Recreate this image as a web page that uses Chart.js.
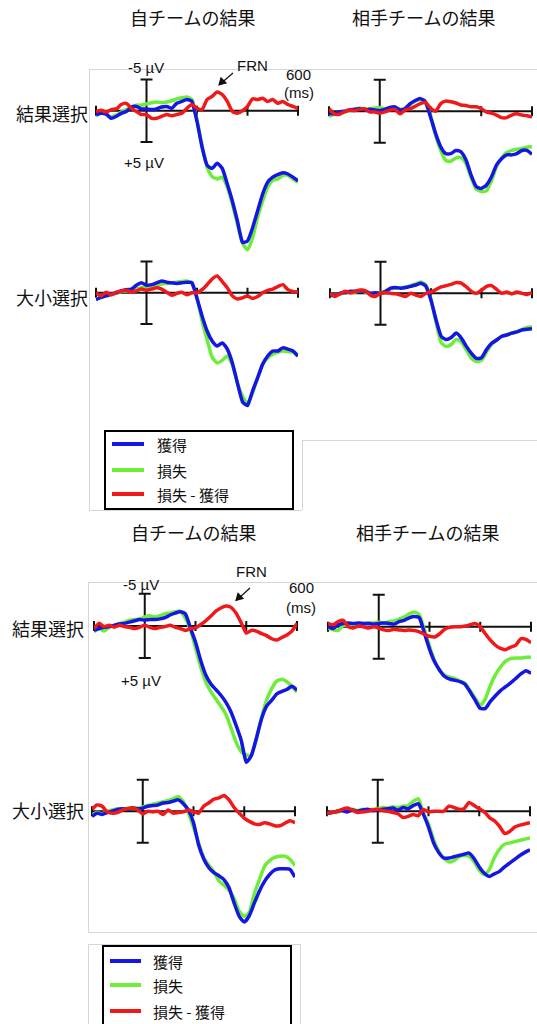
<!DOCTYPE html>
<html>
<head>
<meta charset="utf-8">
<script src="https://cdn.jsdelivr.net/npm/chart.js@4.4.1/dist/chart.umd.min.js"></script>
<style>
  html, body { margin: 0; padding: 0; background: #fff; }
  #page { position: relative; width: 537px; height: 1024px; overflow: hidden;
          font-family: "Noto Sans CJK JP", "Noto Sans", sans-serif; color: #111; }
  .t { position: absolute; white-space: nowrap; line-height: 1; transform: translateY(-50%); }
  .h { font-size: 18px; }
  .n { font-family: "Liberation Sans", Arial, sans-serif; font-size: 15px; }
  .lg { font-size: 15px; }
  canvas { position: absolute; }
  .g { position: absolute; background: #d6d6d6; }
  .legend { position: absolute; border: 2px solid #000; box-sizing: border-box; background: #fff; }
  .swatch { position: absolute; height: 4px; transform: translateY(-50%); }
  svg { position: absolute; left: 0; top: 0; pointer-events: none; }
</style>
</head>
<body>
<div id="page">
  <!-- light frame lines of the original figure -->
  <div class="g" style="left:89px;top:69px;width:448px;height:1px"></div>
  <div class="g" style="left:89px;top:69px;width:1px;height:441px"></div>
  <div class="g" style="left:89px;top:510px;width:213px;height:1px"></div>
  <div class="g" style="left:302px;top:440px;width:1px;height:70px"></div>
  <div class="g" style="left:302px;top:440px;width:235px;height:1px"></div>
  <div class="g" style="left:88px;top:582px;width:449px;height:1px"></div>
  <div class="g" style="left:88px;top:582px;width:1px;height:350px"></div>
  <div class="g" style="left:88px;top:932px;width:449px;height:1px"></div>
  <div class="g" style="left:88px;top:944px;width:212px;height:1px"></div>
  <div class="g" style="left:88px;top:944px;width:1px;height:80px"></div>
  <div class="g" style="left:300px;top:944px;width:1px;height:80px"></div>

  <!-- figure 1 -->
  <div class="t h" style="left:130px;top:17px">自チームの結果</div>
  <div class="t h" style="left:352px;top:17px">相手チームの結果</div>
  <div class="t h" style="left:16px;top:113px">結果選択</div>
  <div class="t h" style="left:16px;top:297px">大小選択</div>
  <div class="t n" style="left:128px;top:67px">-5 µV</div>
  <div class="t n" style="left:124px;top:162px">+5 µV</div>
  <div class="t n" style="left:237px;top:65px">FRN</div>
  <div class="t n" style="left:286px;top:74px">600</div>
  <div class="t n" style="left:284px;top:92px">(ms)</div>

  <!-- figure 2 -->
  <div class="t h" style="left:131px;top:532px">自チームの結果</div>
  <div class="t h" style="left:356px;top:532px">相手チームの結果</div>
  <div class="t h" style="left:12px;top:628px">結果選択</div>
  <div class="t h" style="left:12px;top:810px">大小選択</div>
  <div class="t n" style="left:123px;top:584px">-5 µV</div>
  <div class="t n" style="left:121px;top:680px">+5 µV</div>
  <div class="t n" style="left:236px;top:571px">FRN</div>
  <div class="t n" style="left:289px;top:587px">600</div>
  <div class="t n" style="left:286px;top:607px">(ms)</div>

  <svg width="537" height="1024">
    <g stroke="#111" stroke-width="1.2" fill="#111">
      <line x1="233" y1="73" x2="222" y2="82.5"/>
      <polygon points="219,85 221,78 226,83"/>
      <line x1="250" y1="588" x2="239" y2="598"/>
      <polygon points="236,600.5 238,593.5 243,598.5"/>
    </g>
  </svg>

  <div id="legend1" class="legend" style="left:104px;top:430px;width:190px;height:80px"></div>
  <div id="legend2" class="legend" style="left:102px;top:945px;width:190px;height:90px"></div>
</div>

<script>
// time points (ms) and series
const times = [-200,-180,-160,-140,-120,-100,-80,-60,-40,-20,0,20,40,60,80,100,120,140,160,180,200,
               220,240,260,280,300,320,340,360,380,400,420,440,460,480,500,520,540,560,580,600];
const timeTicks = [-200, 200, 400, 600];
const scaleBarUV = 5;
const seriesNames = ['獲得', '損失', '損失 - 獲得'];
const seriesColors = ['#1616e4', '#6cee38', '#f01818'];

// figure 1, 結果選択 / 自チーム
const fig1ResultSelfGain = [0.6,0.4,0.5,1.2,0.9,0.4,0.1,-0.6,-0.7,-0.3,-0.3,-0.2,-0.3,-0.6,-0.7,-0.4,-1.2,-1.5,-1.8,-1.5,1.7,5.8,8.7,9.2,8.4,9.2,11.7,14.4,17.6,21.0,20.8,18.7,16.0,13.3,11.4,10.6,10.2,9.9,10.1,10.6,11.2];
const fig1ResultSelfLoss = [0.8,0.3,0.6,1.0,0.7,0.2,-0.2,-0.5,-0.9,-0.9,-1.1,-1.3,-1.4,-1.3,-1.4,-1.6,-1.9,-2.1,-2.2,-1.8,1.5,5.5,9.0,10.5,10.9,10.6,12.2,14.9,18.1,21.1,22.2,20.3,17.0,14.4,12.2,11.1,10.9,10.3,10.3,10.9,11.4];
const fig1ResultSelfDiff = [0.1,-0.1,0.2,-0.2,-0.3,-1.0,-1.2,-0.4,0.1,0.6,0.6,1.2,1.2,0.9,0.6,0.8,0.6,0.4,-0.4,-1.0,-0.4,-0.2,-1.8,-2.3,-3.0,-2.6,-1.5,0.1,0.4,0.0,-0.7,-1.9,-1.8,-2.0,-1.5,-1.8,-1.2,-1.5,-1.0,-0.7,-0.4];
// figure 1, 結果選択 / 相手チーム
const fig1ResultOtherGain = [0.4,0.4,0.1,0.0,-0.2,-0.3,-0.4,-0.2,-0.3,-0.2,-0.1,-0.3,-0.6,-0.7,-0.2,-0.4,-1.2,-1.7,-2.0,-1.5,0.9,3.5,5.6,6.7,6.7,6.2,6.4,7.7,10.1,11.9,12.2,11.7,10.4,8.5,7.5,6.9,6.9,6.7,6.2,6.2,6.8];
const fig1ResultOtherLoss = [0.8,0.5,0.2,0.1,-0.1,-0.3,-0.5,-0.3,-0.4,-0.5,-0.6,-0.4,-0.5,-0.6,-0.3,-0.5,-1.1,-1.6,-1.8,-1.3,0.6,3.8,6.2,7.8,7.9,7.4,7.3,8.3,10.5,12.3,12.7,12.6,11.0,8.8,7.4,6.5,6.2,6.0,5.9,5.7,5.6];
const fig1ResultOtherDiff = [-0.4,0.4,0.5,0.1,-0.2,-0.1,-0.3,-0.4,0.1,0.1,0.3,0.1,-0.2,-0.3,0.4,-0.2,-0.4,-0.8,-1.2,-1.4,-0.5,0.0,-1.2,-1.6,-1.5,-1.3,-1.0,-0.9,-0.7,-0.7,-0.4,0.1,0.3,0.6,1.0,1.0,0.6,0.4,0.6,0.7,0.9];
// figure 1, 大小選択 / 自チーム
const fig1SizeSelfGain = [1.1,0.7,0.5,0.2,0.0,-0.3,-0.5,-0.6,-1.2,-1.6,-1.2,-1.3,-1.6,-1.9,-1.7,-1.6,-1.5,-1.6,-1.7,-1.6,0.9,3.7,6.1,7.7,8.5,8.0,9.0,11.2,14.4,17.4,18.0,15.7,13.6,11.4,10.1,9.3,9.3,8.8,9.0,9.3,10.1];
const fig1SizeSelfLoss = [1.0,0.8,0.4,0.3,0.1,-0.2,-0.3,-0.4,-0.6,-0.8,-0.9,-1.0,-1.2,-1.4,-1.5,-1.6,-1.7,-1.8,-1.9,-1.5,0.8,4.5,7.5,10.3,11.2,10.8,10.1,11.5,14.4,16.5,17.6,16.0,13.6,11.4,10.4,9.8,9.5,9.3,9.4,9.5,10.1];
const fig1SizeSelfDiff = [0.0,0.5,-0.1,0.3,-0.1,-0.3,-0.4,-0.1,-0.3,-0.6,-0.4,-0.6,-0.8,-0.6,-0.1,0.4,0.1,-0.1,0.3,0.0,0.0,-0.5,-1.3,-2.2,-2.7,-1.8,-0.8,0.5,1.0,0.8,0.5,0.9,0.6,0.0,-0.4,-0.6,-1.0,-1.3,-0.5,-0.2,-0.1];
// figure 1, 大小選択 / 相手チーム
const fig1SizeOtherGain = [0.3,0.4,0.0,-0.1,-0.3,-0.3,-0.4,-0.3,0.0,-0.1,0.0,-0.3,-0.8,-0.9,-0.8,-0.9,-1.1,-1.3,-1.6,-1.1,1.1,4.2,6.8,7.3,7.0,6.3,7.1,8.4,9.5,10.3,10.2,8.9,7.9,7.4,6.8,6.6,6.3,6.1,5.8,5.7,5.6];
const fig1SizeOtherLoss = [0.4,0.3,0.1,-0.2,-0.1,-0.2,-0.4,-0.2,0.2,0.0,-0.1,-0.3,-0.7,-0.8,-0.9,-1.0,-1.2,-1.5,-1.8,-1.3,1.0,4.6,7.8,8.4,8.1,7.3,7.7,9.0,10.3,10.8,10.6,9.3,8.1,7.4,6.8,6.5,6.3,6.1,5.7,5.4,5.3];
const fig1SizeOtherDiff = [0.0,0.5,0.1,-0.3,-0.1,-0.3,-0.5,-0.4,0.3,0.5,0.0,-0.1,0.0,0.1,0.3,0.5,0.0,0.3,0.5,0.0,-0.2,-0.6,-1.0,-1.2,-1.4,-1.7,-1.6,-1.0,-0.3,0.0,-0.5,-1.1,-1.2,-0.6,0.0,-0.2,0.1,-0.2,0.0,0.2,-0.1];

// figure 2, 結果選択 / 自チーム
const fig2ResultSelfGain = [0.7,0.4,0.2,0.1,-0.1,-0.3,-0.4,-0.6,-0.8,-1.0,-0.9,-1.0,-1.0,-1.1,-1.3,-1.7,-2.0,-2.2,-1.9,0.3,2.5,5.3,7.6,9.0,9.9,10.8,11.9,13.4,15.5,17.8,21.2,20.2,17.5,14.5,12.5,11.6,10.6,10.2,9.9,9.4,10.0];
const fig2ResultSelfLoss = [0.9,0.4,0.8,0.2,-0.1,-0.4,-0.6,-0.9,-1.0,-1.1,-1.4,-1.6,-1.4,-1.6,-1.9,-2.0,-2.2,-2.3,-1.2,0.6,3.4,6.3,8.7,10.2,11.4,12.5,13.8,15.9,18.1,19.6,20.1,20.2,17.5,14.3,11.6,9.8,8.6,8.3,8.7,9.4,10.3];
const fig2ResultSelfDiff = [0.4,-0.4,0.1,-0.1,0.2,-0.1,0.1,0.2,0.4,0.2,-0.1,0.2,0.4,0.2,0.1,-0.1,0.2,0.4,0.7,0.4,0.3,-0.2,-0.8,-1.5,-2.3,-2.8,-3.1,-2.9,-2.0,-0.5,1.1,0.7,0.8,1.2,1.5,2.0,2.2,1.8,1.4,0.8,-0.4];
// figure 2, 結果選択 / 相手チーム
const fig2ResultOtherGain = [0.0,0.3,-0.3,-0.5,-0.6,-0.5,-0.6,-0.5,-0.5,-0.4,-0.5,-0.6,-0.5,-0.4,-0.8,-1.0,-1.4,-1.6,-1.4,1.0,3.5,5.5,6.8,7.8,8.2,8.4,8.6,9.0,10.2,11.5,12.8,12.8,11.7,10.8,10.0,9.4,8.8,8.1,7.4,6.9,7.3];
const fig2ResultOtherLoss = [0.2,0.5,0.6,-0.2,-0.3,-0.4,-0.5,-0.5,-0.6,-0.6,-0.7,-0.6,-0.8,-0.9,-1.2,-1.5,-2.0,-2.3,-1.9,0.5,3.0,5.3,6.8,7.6,7.9,8.1,8.5,8.9,10.0,11.2,12.3,11.3,9.2,7.5,6.3,5.4,5.0,4.9,4.9,4.8,4.8];
const fig2ResultOtherDiff = [-0.5,-0.3,-0.8,-1.0,0.0,0.2,-0.1,0.0,0.2,0.0,0.2,0.5,0.6,0.4,0.5,0.6,0.5,0.6,0.8,1.2,1.5,1.6,1.1,0.4,0.1,0.0,0.0,-0.1,-0.3,-0.5,0.0,1.1,2.1,2.9,3.4,3.6,3.2,2.9,1.9,2.0,2.5];
// figure 2, 大小選択 / 自チーム
const fig2SizeSelfGain = [0.8,0.3,0.5,0.2,0.0,-0.3,-0.4,-0.3,-0.5,-0.4,-0.5,-0.8,-0.9,-1.0,-1.3,-1.4,-1.6,-1.8,-1.2,-0.2,1.8,5.3,7.5,8.9,9.7,10.2,10.8,12.1,14.5,16.6,17.5,16.5,14.5,12.6,11.1,10.0,9.3,9.1,9.1,9.2,10.4];
const fig2SizeSelfLoss = [0.6,0.2,0.4,0.0,-0.2,-0.4,-0.3,-0.5,-0.6,-0.5,-0.7,-0.9,-1.1,-1.3,-1.5,-1.7,-2.0,-2.3,-1.5,0.3,2.5,5.0,7.3,8.5,9.5,11.0,11.7,12.5,13.8,15.8,16.6,16.0,13.0,10.8,8.7,7.8,7.3,7.1,7.1,7.6,8.6];
const fig2SizeSelfDiff = [-0.3,-1.0,-0.8,0.1,0.3,0.2,-0.2,-0.4,-0.5,-0.2,0.4,0.0,0.1,0.0,0.5,-0.2,0.3,0.2,0.1,-0.2,0.1,0.3,-0.8,-1.3,-1.9,-2.1,-2.5,-1.8,-0.6,0.3,1.1,1.6,2.0,2.1,1.8,2.0,2.3,2.3,1.9,1.5,1.8];
// figure 2, 大小選択 / 相手チーム
const fig2SizeOtherGain = [0.3,0.2,0.0,-0.1,0.1,-0.2,0.0,-0.2,-0.3,-0.1,-0.2,-0.3,-0.4,-0.5,-0.2,-0.6,-0.4,-0.9,-1.2,0.5,2.5,5.0,6.5,7.4,7.4,7.2,7.0,6.8,6.6,7.5,8.8,9.8,10.3,9.9,9.5,8.8,8.2,7.6,7.0,6.5,6.1];
const fig2SizeOtherLoss = [0.4,0.1,0.2,-0.2,0.0,-0.3,-0.1,-0.3,-0.2,-0.3,-0.4,-0.6,-0.5,-0.7,-0.6,-0.8,-0.9,-1.6,-2.0,0.3,2.0,4.5,6.3,7.4,8.0,7.8,7.2,7.0,7.1,8.0,9.3,10.0,9.2,7.3,6.0,5.2,5.0,4.8,4.6,4.4,4.2];
const fig2SizeOtherDiff = [0.3,0.2,0.0,-0.3,-0.5,-0.2,0.2,0.1,0.0,-0.2,-0.3,-0.1,0.0,0.2,0.4,1.0,0.8,0.5,0.7,-0.3,0.1,0.0,0.0,0.0,-0.8,-0.6,-0.3,-0.4,-1.4,-0.9,-0.4,0.1,1.0,1.5,2.4,3.5,3.2,2.5,2.2,2.0,1.8];

// where each panel sits: px of -200 ms and 600 ms, px of 0 µV, px per µV
const panels = [
  { series: [fig1ResultSelfGain, fig1ResultSelfLoss, fig1ResultSelfDiff],   x0: 95.7,  x1: 297.7, y0: 111,   k: 6.25 },
  { series: [fig1ResultOtherGain, fig1ResultOtherLoss, fig1ResultOtherDiff], x0: 329.3, x1: 532,   y0: 111,   k: 6.33 },
  { series: [fig1SizeSelfGain, fig1SizeSelfLoss, fig1SizeSelfDiff],         x0: 96,    x1: 298.3, y0: 293.3, k: 6.27 },
  { series: [fig1SizeOtherGain, fig1SizeOtherLoss, fig1SizeOtherDiff],      x0: 330,   x1: 532,   y0: 293.3, k: 6.33 },
  { series: [fig2ResultSelfGain, fig2ResultSelfLoss, fig2ResultSelfDiff],   x0: 94,    x1: 297,   y0: 625.7, k: 6.43 },
  { series: [fig2ResultOtherGain, fig2ResultOtherLoss, fig2ResultOtherDiff], x0: 327.7, x1: 530.7, y0: 626.7, k: 6.4 },
  { series: [fig2SizeSelfGain, fig2SizeSelfLoss, fig2SizeSelfDiff],         x0: 92.3,  x1: 295.7, y0: 811.7, k: 6.33 },
  { series: [fig2SizeOtherGain, fig2SizeOtherLoss, fig2SizeOtherDiff],      x0: 326.7, x1: 530,   y0: 811.7, k: 6.33 }
];

const PAD = 10, UV_TOP = -7, UV_BOTTOM = 24;

// zero line with ms ticks, and the ±5 µV bar at stimulus onset
const erpAxes = {
  id: 'erpAxes',
  beforeDatasetsDraw(chart) {
    const { ctx, scales: { x, y } } = chart;
    const zy = y.getPixelForValue(0);
    ctx.save();
    ctx.strokeStyle = '#111';
    ctx.lineWidth = 2;
    ctx.beginPath();
    ctx.moveTo(x.getPixelForValue(times[0]), zy);
    ctx.lineTo(x.getPixelForValue(times[times.length - 1]), zy);
    timeTicks.forEach(t => {
      const px = x.getPixelForValue(t);
      ctx.moveTo(px, zy - 5);
      ctx.lineTo(px, zy + 5);
    });
    const bx = x.getPixelForValue(0);
    const top = y.getPixelForValue(-scaleBarUV), bot = y.getPixelForValue(scaleBarUV);
    ctx.moveTo(bx, top); ctx.lineTo(bx, bot);
    ctx.moveTo(bx - 6, top); ctx.lineTo(bx + 6, top);
    ctx.moveTo(bx - 6, bot); ctx.lineTo(bx + 6, bot);
    ctx.stroke();
    ctx.restore();
  }
};

const page = document.getElementById('page');

panels.forEach(p => {
  const c = document.createElement('canvas');
  c.width = Math.round(p.x1 - p.x0 + 2 * PAD);
  c.height = Math.round((UV_BOTTOM - UV_TOP) * p.k + 2 * PAD);
  c.style.left = Math.round(p.x0 - PAD) + 'px';
  c.style.top = Math.round(p.y0 + UV_TOP * p.k - PAD) + 'px';
  page.appendChild(c);

  // red drawn on top, green underneath
  const order = [2, 0, 1];
  new Chart(c, {
    type: 'line',
    data: {
      datasets: order.map(i => ({
        label: seriesNames[i],
        data: p.series[i].map((v, j) => ({ x: times[j], y: v })),
        borderColor: seriesColors[i],
        borderWidth: 3.5,
        pointRadius: 0,
        tension: 0.2,
        fill: false
      }))
    },
    options: {
      responsive: false,
      animation: false,
      devicePixelRatio: 1,
      layout: { padding: PAD },
      plugins: { legend: { display: false }, tooltip: { enabled: false } },
      scales: {
        x: { type: 'linear', min: times[0], max: times[times.length - 1], display: false },
        y: { min: UV_TOP, max: UV_BOTTOM, reverse: true, display: false }
      }
    },
    plugins: [erpAxes]
  });
});

// legends
function buildLegend(id, rows, lineX0, lineX1, textX, boxLeft, boxTop) {
  const box = document.getElementById(id);
  rows.forEach((yc, i) => {
    const s = document.createElement('div');
    s.className = 'swatch';
    s.style.left = (lineX0 - boxLeft - 2) + 'px';
    s.style.width = (lineX1 - lineX0) + 'px';
    s.style.top = (yc - boxTop - 2) + 'px';
    s.style.background = seriesColors[i];
    box.appendChild(s);
    const t = document.createElement('div');
    t.className = 't lg';
    t.style.left = (textX - boxLeft - 2) + 'px';
    t.style.top = (yc - boxTop - 2) + 'px';
    t.textContent = seriesNames[i];
    box.appendChild(t);
  });
}
buildLegend('legend1', [444, 470, 494], 112, 144, 157, 104, 430);
buildLegend('legend2', [961, 985, 1011], 110, 141, 153, 102, 945);
</script>
</body>
</html>
